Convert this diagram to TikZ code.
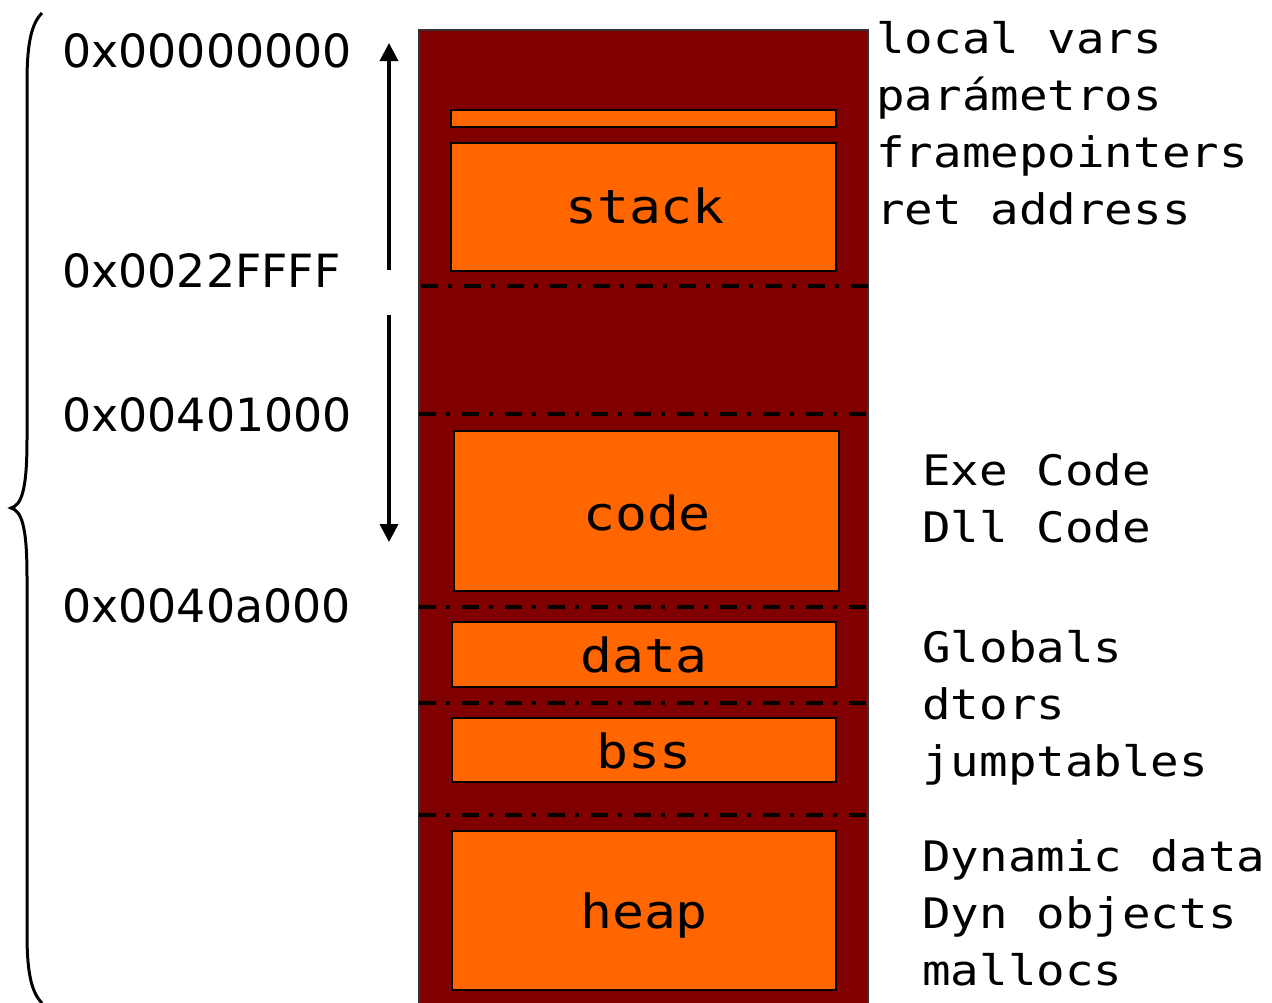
\documentclass[tikz,border=0pt]{standalone}
\usepackage{fontspec}
\setmainfont{DejaVu Sans}
\newfontfamily\segfont[FakeStretch=1.13]{DejaVu Sans Mono}
\usetikzlibrary{arrows.meta}
\definecolor{segred}{HTML}{800000}
\definecolor{segorange}{HTML}{FF6600}

\begin{document}
\begin{tikzpicture}[x=0.5pt,y=-0.5pt,
  column/.style={draw=black!80, line width=0.6pt, fill=segred, inner sep=0pt, outer sep=0pt},
  region/.style={draw=black, line width=1.3pt, fill=segorange, inner sep=0pt, outer sep=0pt},
  boundary/.style={line width=2.3pt, dash pattern=on 8.5pt off 5pt on 2pt off 6pt},
  addr/.style={anchor=base west, inner sep=0pt, font=\fontsize{22.9}{27}\selectfont},
  note/.style={anchor=base west, inner sep=0pt, font=\segfont\fontsize{21}{28.5}\selectfont},
  seglabel/.style={anchor=base, inner sep=0pt, font=\segfont\fontsize{23.5}{28}\selectfont},
  growth/.style={line width=1.8pt, -{Triangle[length=9pt,width=9pt]}}]

\useasboundingbox (0,0) rectangle (1272,1002);
\fill[white] (0,0) rectangle (1272,1002);

% process address space column
\node[column, minimum width=224.5pt, minimum height=491pt] (space) at (643.5,521) {};

% segments
\node[region, minimum width=192.5pt, minimum height=8.5pt] (frame) at (643.5,118.5) {};
\node[region, minimum width=192.5pt, minimum height=64pt]  (stack) at (643.5,207) {};
\node[region, minimum width=192.5pt, minimum height=80pt]  (code)  at (646.5,511) {};
\node[region, minimum width=192pt,   minimum height=32.5pt] (data) at (644,654.5) {};
\node[region, minimum width=192pt,   minimum height=32pt]  (bss)   at (644,750) {};
\node[region, minimum width=192pt,   minimum height=79.5pt] (heap) at (644,910.5) {};

\node[seglabel] (stackl) at (645,223) {stack};
\node[seglabel] (codel)  at (647,530) {code};
\node[seglabel] (datal)  at (644,672) {data};
\node[seglabel] (bssl)   at (644,768) {bss};
\node[seglabel] (heapl)  at (644,928) {heap};

% segment boundaries
\draw[boundary] (421,286) -- (870,286);
\foreach \y in {414,607,703,815}
  \draw[boundary] (space.west |- 0,\y) -- (space.east |- 0,\y);

% addresses
\node[addr] (a0) at (62,67)  {0x00000000};
\node[addr] (a1) at (62,287) {0x0022FFFF};
\node[addr] (a2) at (62,431) {0x00401000};
\node[addr] (a3) at (62,622) {0x0040a000};

% growth directions
\coordinate (upfrom) at (389,270);
\coordinate (upto) at (389,43);
\coordinate (downfrom) at (389,315);
\coordinate (downto) at (389,542);
\draw[growth] (upfrom) -- (upto);
\draw[growth] (downfrom) -- (downto);

% brace spanning the whole address space
\draw[line width=1.5pt] (42,13) .. controls (31,24) and (27,45) .. (27,82)
  -- (27,440) .. controls (27,492) and (21,505) .. (11,508)
  .. controls (21,511) and (27,524) .. (27,576)
  -- (27,934) .. controls (27,971) and (31,992) .. (42,1003);

% notes
\node[note] (n1) at (876,53)  {local vars};
\node[note] (n2) at (876,110) {parámetros};
\node[note] (n3) at (876,167) {framepointers};
\node[note] (n4) at (876,224) {ret address};

\node[note] (n5) at (922,485) {Exe Code};
\node[note] (n6) at (922,542) {Dll Code};

\node[note] (n7) at (922,662) {Globals};
\node[note] (n8) at (922,719) {dtors};
\node[note] (n9) at (922,776) {jumptables};

\node[note] (n10) at (922,871) {Dynamic data};
\node[note] (n11) at (922,928) {Dyn objects};
\node[note] (n12) at (922,985) {mallocs};
\end{tikzpicture}
\end{document}
